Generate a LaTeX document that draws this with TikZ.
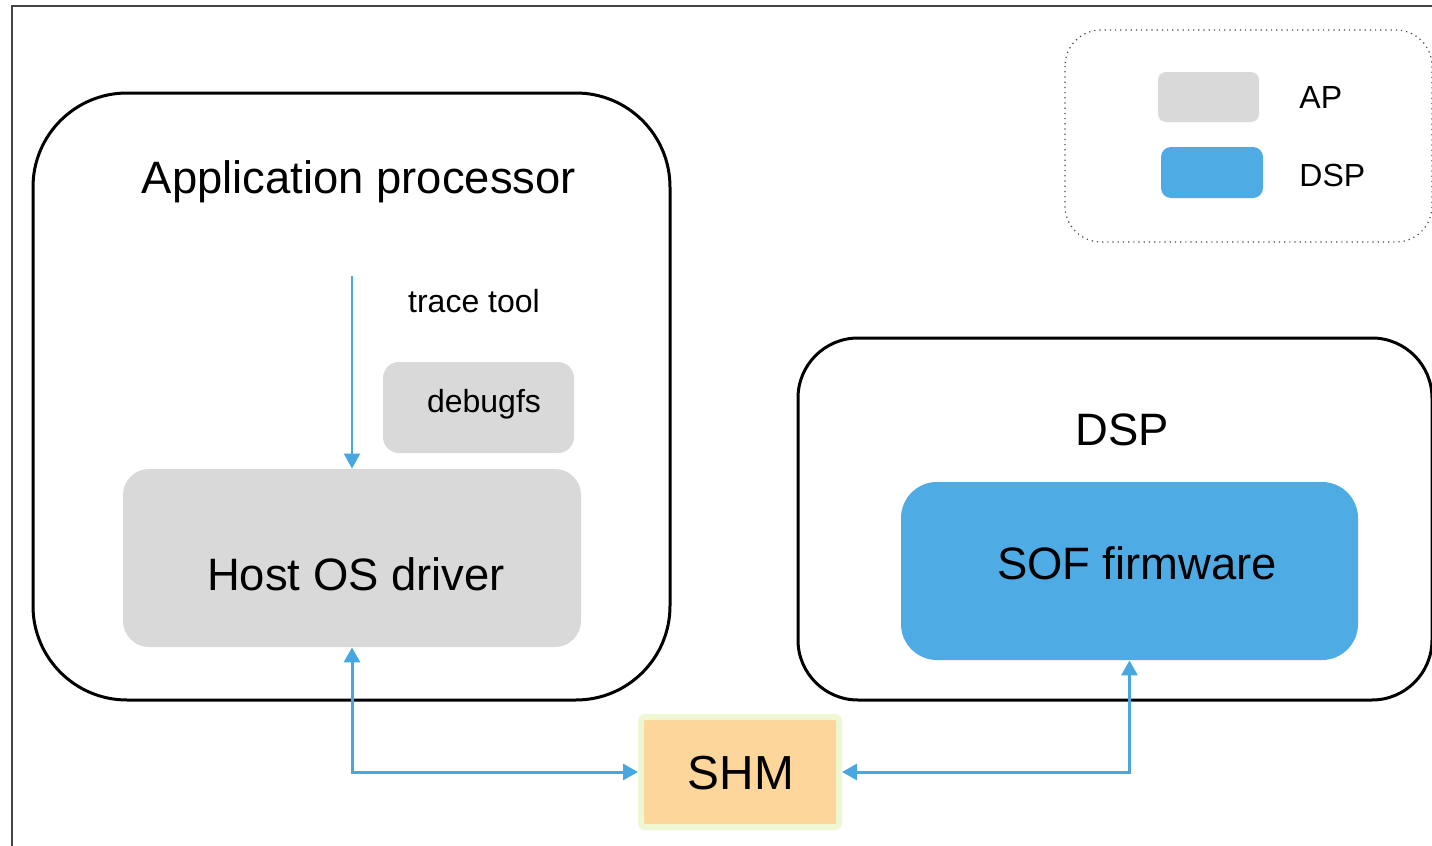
\documentclass[tikz,border=0pt]{standalone}
\usepackage{fontspec}
\setmainfont{Liberation Sans}
\usetikzlibrary{arrows.meta}
\definecolor{apgray}{HTML}{D9D9D9}
\definecolor{dspblue}{HTML}{4FABE3}
\definecolor{arrblue}{HTML}{48A7E0}
\definecolor{shmfill}{HTML}{FDD69B}
\definecolor{shmborder}{HTML}{EEF6D2}
\definecolor{framegray}{HTML}{444444}
\begin{document}
\begin{tikzpicture}[x=0.5pt,y=-0.5pt,
  bigbox/.style={draw=black,line width=1.5pt},
  apbox/.style={fill=apgray,draw=none,rounded corners=#1},
  dspbox/.style={fill=dspblue,draw=none,rounded corners=#1},
  big/.style={font=\fontsize{22.7}{27}\selectfont},
  small/.style={font=\fontsize{16}{19}\selectfont},
  arr/.style={draw=arrblue,line width=1.5pt,-{Triangle[length=7.5pt,width=8pt]}},
  arrboth/.style={draw=arrblue,line width=1.5pt,{Triangle[length=7.5pt,width=8pt]}-{Triangle[length=7.5pt,width=8pt]}},
  thinarr/.style={draw=arrblue,line width=1pt,-{Triangle[length=7.5pt,width=8pt]}}]
\useasboundingbox (0,0) rectangle (1432,846);
\begin{scope}
\clip (0,0) rectangle (1432,846);
% outer frame
\draw[framegray,line width=0.8pt] (12,900) |- (1500,6);
% AP container
\draw[bigbox,rounded corners=47pt] (33,93) rectangle (670,700);
\node[big] (aptitle) at (359,182) {Application processor};
% DSP container
\draw[bigbox,rounded corners=30pt] (798,338) rectangle (1432,700);
\node[big] (dsptitle) at (1122,430) {DSP};
% legend
\draw[framegray,line width=0.6pt,dotted,rounded corners=18pt] (1065,30) rectangle (1432,242);
\end{scope}
% legend swatches
\node[apbox=4pt,minimum width=50.5pt,minimum height=25pt,inner sep=0pt] (legap) at (1208.5,97) {};
\node[small,anchor=west,inner sep=0pt] (legaptext) at (1299,97) {AP};
\node[dspbox=5pt,minimum width=51pt,minimum height=25.5pt,inner sep=0pt] (legdsp) at (1212,172.5) {};
\node[small,anchor=west,inner sep=0pt] (legdsptext) at (1299,175) {DSP};
% debugfs
\node[apbox=8pt,minimum width=95.5pt,minimum height=45.5pt,inner sep=0pt] (debugfs) at (478.5,407.5) {};
\node[small] (debugfstext) at (484,404) {debugfs};
% trace tool
\node[small] (tracetool) at (474,301) {trace tool};
% Host OS driver
\node[apbox=13pt,minimum width=229pt,minimum height=89pt,inner sep=0pt] (host) at (352,558) {};
\node[big] (hosttext) at (356,574) {Host OS driver};
% SOF firmware
\node[dspbox=18pt,minimum width=228.5pt,minimum height=89pt,inner sep=0pt] (sof) at (1129.5,571) {};
\node[big] (softext) at (1137,563) {SOF firmware};
% SHM
\node[fill=shmfill,draw=shmborder,line width=3pt,rounded corners=2pt,minimum width=99pt,minimum height=55pt,inner sep=0pt,outer sep=1.5pt] (shm) at (740,772) {};
\node[font=\fontsize{23.9}{28}\selectfont] (shmtext) at (741,773) {SHM};
% connectors
\coordinate (tracestart) at (352,276);
\draw[thinarr] (tracestart) -- (host.north);
\draw[arrboth] (host.south) |- (shm.west);
\draw[arrboth] (sof.south) |- (shm.east);
\end{tikzpicture}
\end{document}
